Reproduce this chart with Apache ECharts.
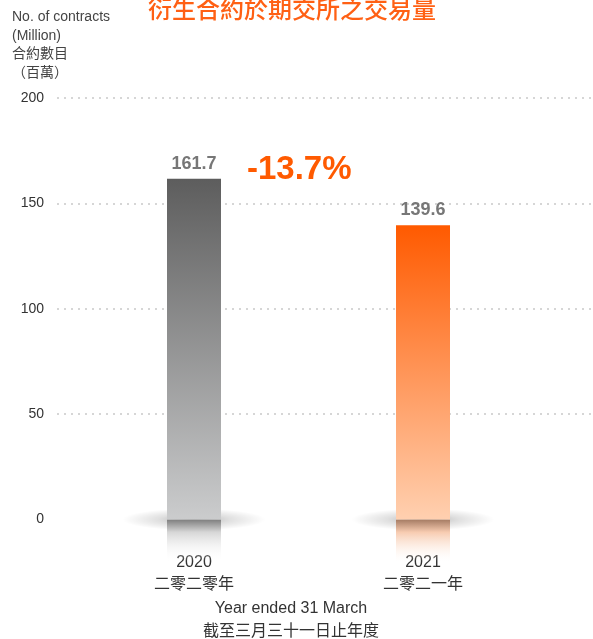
<!DOCTYPE html>
<html lang="en">

<head>
  <meta charset="UTF-8">
  <title>衍生合約於期交所之交易量</title>
  <style>
    html, body { margin: 0; padding: 0; background: #fff; }
    #chart { width: 593px; height: 639px; }
  </style>
  <script src="https://cdn.jsdelivr.net/npm/echarts@6/dist/echarts.min.js"></script>
</head>

<body>
  <div id="chart"></div>
  <script>
    var years = ['2020', '2021'];
    var yearsZh = ['二零二零年', '二零二一年'];
    var contracts = [161.7, 139.6];
    var change = '-13.7%';
    var yMin = 0, yMax = 200, yStep = 50;

    var FONT = '"Liberation Sans", "Noto Sans CJK TC", sans-serif';
    var barW = 54;

    // top / bottom colour of each bar, plus its reflection
    var barColors = [
      { top: '#5d5d5d', bottom: '#cbcccd', refTop: '#7e7e7e', refMid: '#d6d6d6', refEnd: 'rgba(255,255,255,0)' },
      { top: '#ff5a00', bottom: '#ffd0b0', refTop: '#a57b63', refMid: '#f7cbb0', refEnd: 'rgba(255,245,238,0)' }
    ];

    var chart = echarts.init(document.getElementById('chart'));

    var barData = contracts.map(function (v, i) {
      var c = barColors[i];
      return {
        value: v,
        itemStyle: {
          color: new echarts.graphic.LinearGradient(0, 0, 0, 1, [
            { offset: 0, color: c.top },
            { offset: 1, color: c.bottom }
          ])
        }
      };
    });

    function renderShadow(params, api) {
      var i = api.value(0);
      var p = api.coord([i, 0]);
      var c = barColors[i];
      return {
        type: 'group',
        children: [{
          type: 'circle',
          x: p[0],
          y: p[1],
          scaleX: 6.5,
          shape: { cx: 0, cy: 0, r: 11 },
          style: {
            fill: new echarts.graphic.RadialGradient(0.5, 0.5, 0.5, [
              { offset: 0, color: 'rgba(0,0,0,0.3)' },
              { offset: 0.5, color: 'rgba(0,0,0,0.12)' },
              { offset: 1, color: 'rgba(0,0,0,0)' }
            ])
          }
        }, {
          type: 'rect',
          shape: { x: p[0] - barW / 2, y: p[1], width: barW, height: 42 },
          style: {
            fill: new echarts.graphic.LinearGradient(0, 0, 0, 1, [
              { offset: 0, color: c.refTop },
              { offset: 0.3, color: c.refMid },
              { offset: 1, color: c.refEnd }
            ])
          }
        }]
      };
    }

    var option = {
      animation: false,
      backgroundColor: '#fff',
      grid: [
        { left: 57, right: 0, top: 98, bottom: 119.5 },
        { left: 79.5, right: 55.5, top: 98, bottom: 119.5 }
      ],
      xAxis: [{
        gridIndex: 0,
        type: 'category',
        data: years,
        show: false
      }, {
        gridIndex: 1,
        type: 'category',
        data: years,
        axisLine: { show: false },
        axisTick: { show: false },
        axisLabel: {
          margin: 32,
          color: '#333',
          fontFamily: FONT,
          fontSize: 16,
          lineHeight: 22,
          formatter: function (v, i) {
            return v + '\n' + yearsZh[i];
          }
        }
      }],
      yAxis: [{
        gridIndex: 0,
        type: 'value',
        min: yMin,
        max: yMax,
        interval: yStep,
        axisLine: { show: false },
        axisTick: { show: false },
        axisLabel: {
          margin: 13,
          color: '#333',
          fontFamily: FONT,
          fontSize: 14
        },
        splitLine: {
          showMinLine: false,
          lineStyle: { color: '#d6d6d6', width: 2, type: [2, 5] }
        }
      }, {
        gridIndex: 1,
        type: 'value',
        min: yMin,
        max: yMax,
        interval: yStep,
        show: false,
        splitLine: { show: false }
      }],
      series: [{
        type: 'custom',
        xAxisIndex: 1,
        yAxisIndex: 1,
        clip: false,
        z: 1,
        silent: true,
        renderItem: renderShadow,
        data: contracts.map(function (v, i) { return [i, v]; })
      }, {
        type: 'bar',
        xAxisIndex: 1,
        yAxisIndex: 1,
        z: 3,
        barWidth: barW,
        data: barData,
        label: {
          show: true,
          position: 'top',
          distance: 6,
          color: '#777',
          fontFamily: FONT,
          fontSize: 18,
          fontWeight: 'bold'
        }
      }],
      graphic: [{
        type: 'text',
        x: 292,
        y: 9,
        style: {
          text: '衍生合約於期交所之交易量',
          fill: '#ff6014',
          font: '500 24px "Noto Sans CJK TC", sans-serif',
          align: 'center',
          verticalAlign: 'middle'
        }
      }, {
        type: 'text',
        x: 12,
        y: 8,
        style: {
          text: 'No. of contracts\n(Million)\n合約數目\n（百萬）',
          fill: '#444',
          font: '14px ' + FONT,
          lineHeight: 18.5
        }
      }, {
        type: 'text',
        x: 247,
        y: 170,
        style: {
          text: change,
          fill: '#ff5a00',
          font: 'bold 33px ' + FONT,
          verticalAlign: 'middle'
        }
      }, {
        type: 'text',
        x: 291,
        y: 597,
        style: {
          text: 'Year ended 31 March\n截至三月三十一日止年度',
          fill: '#333',
          font: '16px ' + FONT,
          lineHeight: 23,
          align: 'center'
        }
      }]
    };

    chart.setOption(option);
  </script>
</body>

</html>
